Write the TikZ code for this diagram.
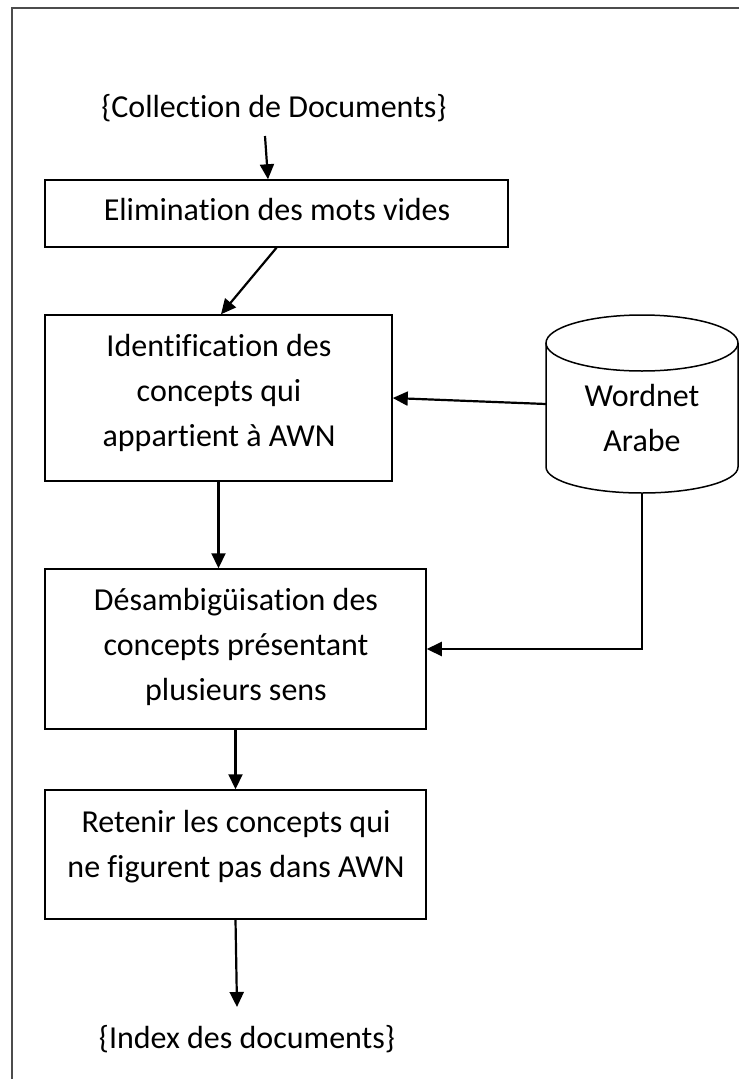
\documentclass[tikz,border=0pt]{standalone}
\usepackage{fontspec}
\setmainfont{Carlito}[Ligatures=NoCommon]
\usetikzlibrary{arrows.meta,calc}
\begin{document}
\begin{tikzpicture}[x=1pt,y=-1pt,
  box/.style={draw=black, line width=1.5pt, inner sep=0pt, fill=none},
  txt/.style={inner sep=0pt, align=center, font=\fontsize{32}{45}\selectfont, anchor=base},
  arr/.style={draw=black, line width=2.2pt, -{Triangle[length=15pt,width=14pt]}},
  frame/.style={draw=black!70, line width=2.3pt}
]
\useasboundingbox (0,0) rectangle (739,1079);

% page frame (top and left rules)
\draw[frame] (739,8) -- (12,8) -- (12,1079);

% input and output labels (anchored on the baseline of the last line)
\node[txt] (coll) at (274,117) {\{Collection de Documents\}};
\node[txt] (idx) at (247,1048) {\{Index des documents\}};

% processing steps
\node[box, minimum width=463pt, minimum height=67pt] (b1) at (276.5,213.5) {};
\node[txt] (t1) at (277,220) {Elimination des mots vides};

\node[box, minimum width=347pt, minimum height=166pt] (b2) at (218.5,398) {};
\node[txt] (t2) at (219,446) {Identification des\\concepts qui\\appartient à AWN};

\node[box, minimum width=381pt, minimum height=160pt] (b3) at (235.5,649) {};
\node[txt] (t3) at (236,700) {Désambigüisation des\\concepts présentant\\plusieurs sens};

\node[box, minimum width=381pt, minimum height=129pt] (b4) at (235.5,854.5) {};
\node[txt] (t4) at (236,877) {Retenir les concepts qui\\ne figurent pas dans AWN};

% Arabic WordNet database
\draw[box] (642,343) ellipse [x radius=96, y radius=28];
\draw[box] (546,343) -- (546,467) arc[start angle=180, end angle=0, x radius=96, y radius=26] -- (738,343);
\node[txt] (wn) at (642,451) {Wordnet\\Arabe};
\coordinate (wnL) at (546,404);
\coordinate (wnB) at (642,493);

% free ends of the first and last arrows
\coordinate (s0) at (265,136);
\coordinate (e1) at (237,1007);

% flow
\draw[arr] (s0) -- ([xshift=-8.5pt]b1.north);
\draw[arr] (b1.south) -- ([xshift=2.5pt]b2.north);
\draw[arr] (b2.south) -- (b2.south |- b3.north);
\draw[arr] (b3.south) -- (b4.north);
\draw[arr] (b4.south) -- (e1);
\draw[arr] (wnL) -- (b2.east);
\draw[arr] (wnB) |- (b3.east);
\end{tikzpicture}
\end{document}
